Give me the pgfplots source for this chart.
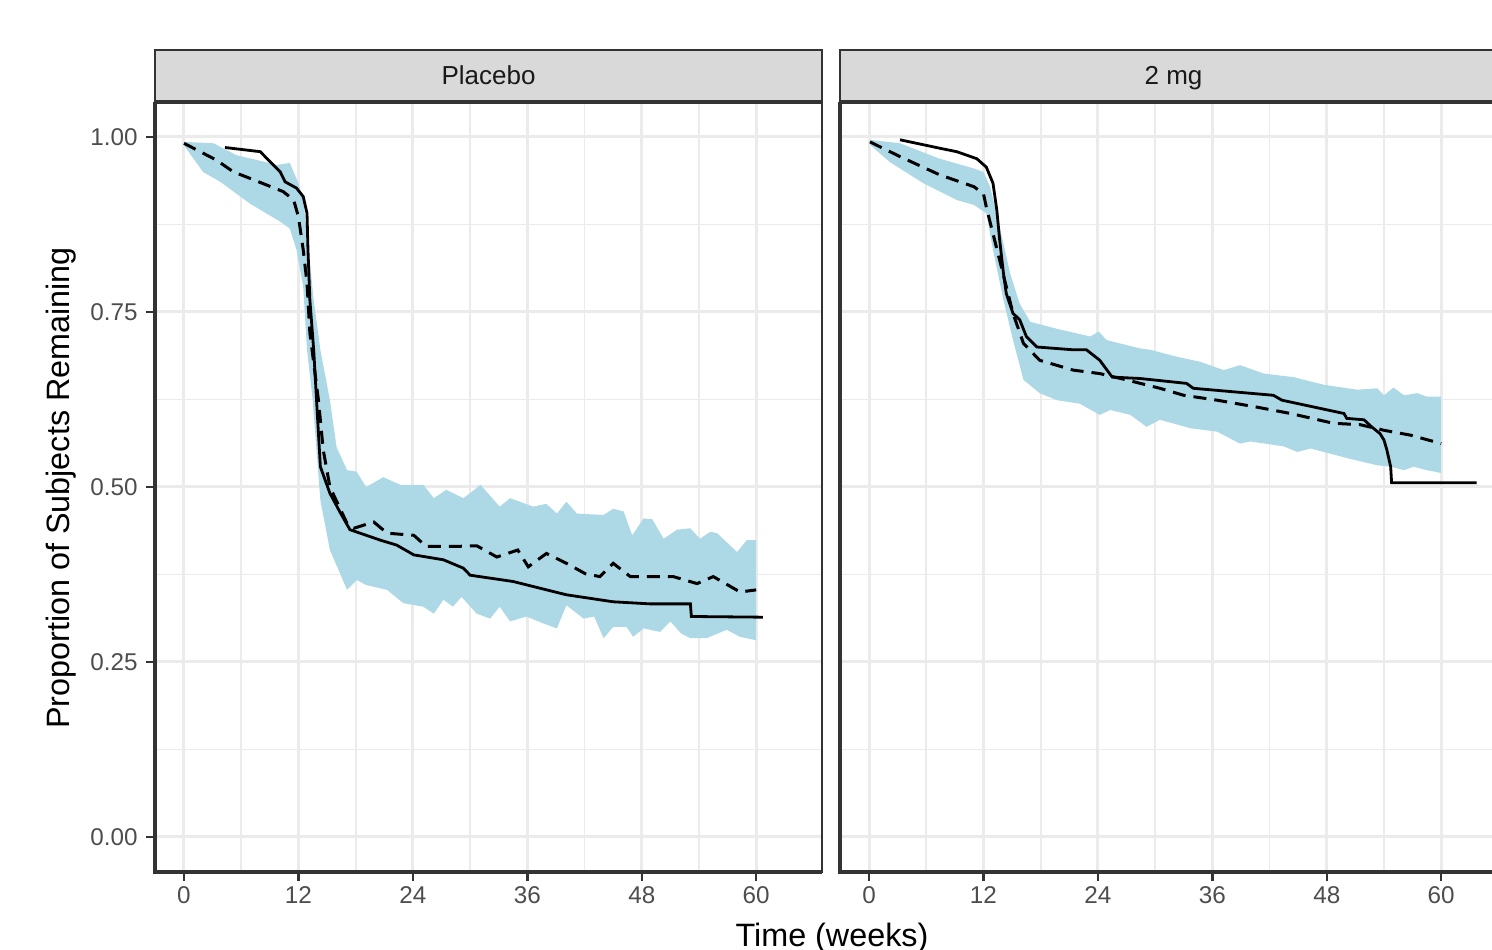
\documentclass[border=0pt]{standalone}
\usepackage{fontspec}
\setmainfont{Liberation Sans}
\usepackage{pgfplots}
\pgfplotsset{compat=1.18}

\definecolor{ribbon}{HTML}{ADD8E6}
\definecolor{grid92}{HTML}{EBEBEB}
\definecolor{gray20}{HTML}{333333}
\definecolor{gray30}{HTML}{4D4D4D}
\definecolor{strip}{HTML}{D9D9D9}

\pgfplotsset{
  panel/.style={
    scale only axis,
    width=66.7mm, height=77mm,
    xmin=-3.04, xmax=66.9,
    ymin=-0.05, ymax=1.05,
    xtick={0,12,24,36,48,60},
    minor xtick={6,18,30,42,54},
    ytick={0,0.25,0.5,0.75,1},
    minor ytick={0.125,0.375,0.625,0.875},
    grid=both,
    major grid style={grid92, line width=0.3mm},
    minor grid style={grid92, line width=0.18mm},
    minor tick length=0pt,
    tick align=outside,
    major tick length=0.9mm,
    xtick pos=left, ytick pos=left,
    tick style={gray20, line width=0.25mm},
    axis line style={gray20, line width=0.25mm},
    /pgf/number format/assume math mode=true,
    ticklabel style={font=\fontsize{6.9}{8}\selectfont, text=gray30},
    xticklabel style={yshift=0.7mm},
    yticklabel style={xshift=0.4mm, /pgf/number format/fixed, /pgf/number format/fixed zerofill, /pgf/number format/precision=2},
  },
  km/.style={black, line width=0.28mm},
  pred/.style={black, line width=0.3mm, dash pattern=on 1.3mm off 0.8mm},
}

\begin{document}
\begin{tikzpicture}
\useasboundingbox (0,0) rectangle (149.2mm,95mm);

% Placebo
\begin{axis}[panel, name=left, at={(15.5mm,7.8mm)}, anchor=south west]
\addplot[draw=none, fill=ribbon] coordinates {
(0,0.993)(3.1,0.991)(5.5,0.974)(8.3,0.965)(9.7,0.960)(11.1,0.963)(12.0,0.934)(12.5,0.910)(12.9,0.862)(13.6,0.767)(14.3,0.696)(15.3,0.624)(16.0,0.557)(17.1,0.524)(18.1,0.522)(19.1,0.500)(20.9,0.514)(22.7,0.503)(25.1,0.503)(26.2,0.484)(27.5,0.496)(29.3,0.484)(31.1,0.503)(33.1,0.472)(34.2,0.484)(36.6,0.472)(38.0,0.476)(39.1,0.462)(40.1,0.479)(41.2,0.462)(44.0,0.460)(45.0,0.469)(46.1,0.465)(47.0,0.431)(48.2,0.455)(49.1,0.454)(50.3,0.426)(51.7,0.439)(53.1,0.441)(54.1,0.426)(55.2,0.436)(55.9,0.434)(58.0,0.407)(59.0,0.424)(60.0,0.424)
(60.0,0.281)(58.3,0.286)(56.9,0.296)(54.8,0.284)(53.1,0.284)(52.1,0.291)(51.0,0.308)(49.9,0.293)(48.2,0.298)(47.1,0.286)(46.4,0.300)(45.0,0.300)(44.0,0.284)(43.0,0.315)(41.9,0.312)(40.1,0.331)(39.1,0.298)(37.7,0.305)(35.9,0.315)(34.2,0.308)(33.1,0.329)(32.1,0.312)(30.7,0.319)(29.1,0.343)(28.2,0.329)(27.2,0.339)(26.2,0.319)(25.1,0.329)(23.0,0.334)(21.3,0.353)(19.1,0.360)(18.1,0.367)(17.1,0.353)(15.3,0.410)(14.3,0.481)(13.5,0.624)(12.9,0.696)(12.5,0.786)(11.8,0.839)(11.1,0.869)(10.1,0.879)(6.9,0.905)(3.8,0.936)(2.0,0.950)(0.1,0.986)
} -- cycle;
\addplot[pred] coordinates {
(0,0.991)(3.4,0.967)(5.2,0.950)(6.9,0.941)(10.4,0.922)(11.5,0.910)(12.0,0.886)(12.5,0.839)(12.9,0.791)(13.2,0.72)(14.1,0.624)(14.6,0.553)(15.3,0.500)(17.1,0.448)(17.8,0.441)(19.9,0.450)(21.3,0.434)(24.1,0.431)(25.4,0.415)(28.2,0.415)(30.7,0.416)(32.8,0.400)(35.0,0.410)(36.1,0.386)(38.0,0.405)(40.1,0.391)(42.1,0.376)(43.6,0.372)(45.0,0.391)(46.8,0.372)(48.9,0.372)(51.3,0.372)(53.8,0.362)(55.5,0.372)(58.3,0.350)(60.0,0.353)
};
\addplot[km] coordinates {
(4.3,0.985)(8.0,0.979)(9.0,0.965)(10.1,0.950)(10.6,0.936)(11.8,0.927)(12.5,0.915)(12.9,0.891)(13.0,0.839)(13.2,0.767)(13.6,0.696)(13.9,0.624)(14.3,0.529)(15.3,0.491)(16.4,0.463)(17.4,0.439)(20.6,0.424)(22.3,0.417)(24.1,0.403)(27.2,0.396)(29.3,0.384)(30.0,0.374)(34.5,0.365)(40.1,0.346)(45.0,0.336)(48.9,0.333)(53.1,0.333)(53.2,0.315)(60.7,0.314)
};
\end{axis}

% 2 mg
\begin{axis}[panel, name=right, at={(84.0mm,7.8mm)}, anchor=south west,
  yticklabels={}, ytick style={draw=none}]
\addplot[draw=none, fill=ribbon] coordinates {
(0.1,0.996)(3.25,0.991)(7.4,0.969)(11.0,0.955)(12.0,0.950)(12.7,0.929)(13.7,0.872)(14.8,0.805)(15.8,0.762)(16.9,0.736)(19.7,0.726)(23.2,0.715)(24.1,0.722)(24.9,0.710)(28.4,0.698)(29.5,0.696)(32.3,0.686)(34.7,0.679)(37.2,0.667)(38.9,0.674)(41.4,0.662)(44.5,0.657)(47.7,0.646)(51.2,0.639)(53.3,0.641)(54.0,0.631)(55.0,0.642)(56.1,0.631)(57.5,0.634)(58.5,0.629)(60.0,0.629)
(60.0,0.520)(58.5,0.524)(57.1,0.529)(56.1,0.524)(54.7,0.529)(53.3,0.531)(50.5,0.540)(47.7,0.550)(46.3,0.555)(44.9,0.550)(43.5,0.558)(40.0,0.565)(38.9,0.562)(36.5,0.579)(33.7,0.584)(30.5,0.596)(29.1,0.586)(27.4,0.603)(25.3,0.610)(24.2,0.603)(22.1,0.619)(19.7,0.624)(17.9,0.634)(16.2,0.653)(15.1,0.710)(14.1,0.767)(13.0,0.839)(12.3,0.891)(11.0,0.903)(9.2,0.910)(5.7,0.934)(2.2,0.964)(0.1,0.989)
} -- cycle;
\addplot[pred] coordinates {
(0.1,0.993)(3.25,0.972)(7.4,0.946)(11.0,0.929)(12.0,0.919)(12.3,0.900)(13.0,0.862)(13.7,0.824)(14.4,0.786)(15.1,0.748)(16.2,0.705)(17.9,0.681)(21.4,0.667)(24.2,0.662)(27.0,0.653)(30.5,0.641)(33.0,0.631)(36.5,0.624)(38.6,0.619)(40.7,0.614)(44.2,0.605)(48.7,0.591)(51.5,0.589)(54.0,0.581)(56.8,0.574)(59.2,0.565)(60.0,0.562)
};
\addplot[km] coordinates {
(3.25,0.996)(7.4,0.984)(9.2,0.979)(11.3,0.969)(12.3,0.957)(13.0,0.934)(13.4,0.896)(13.7,0.853)(14.1,0.805)(14.4,0.776)(15.1,0.748)(15.8,0.739)(16.5,0.715)(17.6,0.700)(21.4,0.696)(22.8,0.696)(24.2,0.681)(25.5,0.657)(28.4,0.655)(33.3,0.648)(34.0,0.641)(42.4,0.631)(43.3,0.624)(49.8,0.605)(50.1,0.598)(51.9,0.596)(52.7,0.586)(53.6,0.576)(54.0,0.567)(54.3,0.553)(54.7,0.529)(54.8,0.506)(63.7,0.506)
};
\end{axis}

% heavier left and bottom axis lines
\draw[gray20, line width=0.4mm] (left.north west) -- (left.south west) -- (left.south east);
\draw[gray20, line width=0.4mm] (right.north west) -- (right.south west) -- (right.south east);

% facet strips
\draw[fill=strip, draw=gray20, line width=0.25mm] (left.north west) rectangle ([yshift=5.2mm]left.north east);
\draw[gray20, line width=0.35mm] (left.north west) -- (left.north east);
\node[font=\fontsize{7.4}{9}\selectfont, text=black!90, anchor=base] at ([yshift=1.75mm]left.north) {Placebo};
\draw[fill=strip, draw=gray20, line width=0.25mm] (right.north west) rectangle ([yshift=5.2mm]right.north east);
\draw[gray20, line width=0.35mm] (right.north west) -- (right.north east);
\node[font=\fontsize{7.4}{9}\selectfont, text=black!90, anchor=base] at ([yshift=1.75mm]right.north) {2 mg};

% axis titles
\node[font=\fontsize{9.2}{11}\selectfont, rotate=90, anchor=base] at (7.0mm,46.2mm) {Proportion of Subjects Remaining};
\node[font=\fontsize{9.2}{11}\selectfont, anchor=base] at (83.2mm,0.3mm) {Time (weeks)};
\end{tikzpicture}
\end{document}
